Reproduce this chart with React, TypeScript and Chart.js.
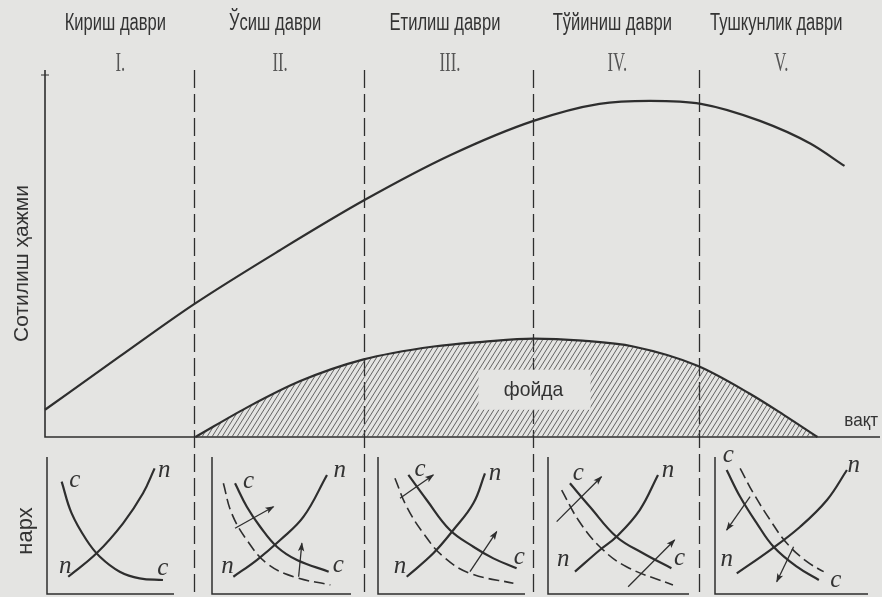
import React, { useEffect, useRef } from "react";
import { Chart, registerables } from "chart.js";

Chart.register(...registerables);

const BG = "#e4e4e2";
const INK = "#2e2e2e";
const TEXT = "#333333";

// Product life cycle: stages along the time axis
const stageNames = ["Кириш даври", "Ўсиш даври", "Етилиш даври", "Тўйиниш даври", "Тушкунлик даври"];
const stageNumerals = ["I.", "II.", "III.", "IV.", "V."];
const stageBounds = [0, 8.8, 18.9, 28.9, 38.7, 48.3];
const timeMax = 49.4;
const volumeMax = 101;

// Sales volume over time
const salesTime = [0, 4.4, 8.8, 13.9, 18.9, 24.0, 28.9, 32.8, 35.8, 38.8, 42.3, 45.3, 47.3];
const salesVolume = [7.5, 22.1, 36.5, 51.4, 65.2, 77.6, 87.0, 91.7, 92.5, 91.7, 87.0, 80.7, 74.6];

// Profit over time
const profitTime = [8.9, 12.1, 15.1, 18.8, 23.0, 25.9, 28.9, 31.8, 34.8, 38.6, 41.7, 43.7, 45.7];
const profitValue = [0, 8.5, 15.4, 21.3, 24.9, 26.2, 27.1, 26.5, 24.9, 19.6, 11.9, 6.1, 0];

// Price panels: [quantity, price] pairs, both on 0..10
const demand1 = [[1.05, 8.2], [1.76, 5.9], [2.83, 3.94], [3.79, 2.72], [5.21, 1.63], [6.64, 1.14], [8.31, 1.02]];
const supply1 = [[1.52, 1.26], [3.55, 2.97], [5.45, 5.16], [6.88, 7.35], [7.71, 9.17]];

const demand2 = [[1.64, 8.08], [2.48, 6.37], [3.43, 4.91], [4.62, 3.45], [6.05, 2.48], [8.31, 1.63]];
const demandOld2 = [[0.81, 8.08], [1.4, 5.89], [2.48, 3.94], [3.9, 2.24], [5.81, 1.26], [8.43, 0.66]];
const supply2 = [[1.52, 1.26], [3.19, 2.48], [4.86, 3.94], [6.52, 5.64], [8.19, 8.69]];
const shifts2 = [[[1.64, 4.8], [4.38, 6.37]], [[6.17, 1.26], [6.4, 3.7]]];

const demand3 = [[2.17, 8.69], [3.48, 6.86], [5.14, 4.67], [6.81, 3.45], [8.24, 2.6], [9.9, 1.88]];
const demandOld3 = [[1.21, 8.45], [2.05, 6.37], [3.24, 4.43], [4.67, 2.72], [6.57, 1.51], [9.67, 0.78]];
const supply3 = [[2.05, 1.26], [3.95, 2.97], [5.38, 4.67], [6.81, 6.62], [7.64, 8.81]];
const shifts3 = [[[1.57, 6.99], [3.95, 8.69]], [[6.57, 1.63], [8.48, 4.55]]];

const demand4 = [[1.57, 8.08], [3.0, 6.37], [4.9, 4.18], [6.81, 2.97], [8.84, 1.88]];
const demandOld4 = [[0.98, 7.59], [2.17, 5.4], [3.71, 3.45], [5.62, 1.99], [8.95, 0.66]];
const supply4 = [[1.93, 1.63], [3.71, 3.21], [4.9, 4.18], [6.57, 6.13], [7.88, 8.69]];
const shifts4 = [[[0.62, 5.28], [3.83, 8.56]], [[5.74, 0.53], [9.07, 3.94]]];

const demand5 = [[0.83, 9.05], [1.79, 7.1], [2.98, 5.16], [4.17, 3.45], [5.83, 1.99], [7.4, 1.02]];
const demandOld5 = [[1.79, 9.17], [2.74, 7.35], [3.93, 5.4], [5.12, 3.7], [6.55, 2.36], [7.74, 1.63]];
const supply5 = [[1.55, 1.51], [3.93, 3.21], [6.07, 4.91], [7.98, 6.86], [9.4, 9.05]];
const shifts5 = [[[2.5, 7.1], [0.83, 4.67]], [[5.6, 3.45], [4.4, 0.9]]];

// Curve letters: [text, quantity, price]
const letters1 = [["с", 2.0, 8.3], ["п", 8.4, 9.05], ["п", 1.3, 2.0], ["с", 8.3, 1.9]];
const letters2 = [["с", 2.6, 8.2], ["п", 9.1, 9.05], ["п", 1.1, 2.0], ["с", 9.0, 2.1]];
const letters3 = [["с", 3.0, 9.1], ["п", 8.36, 8.8], ["п", 1.57, 2.0], ["с", 10.1, 2.7]];
const letters4 = [["с", 2.17, 8.8], ["п", 8.6, 9.05], ["п", 1.1, 2.5], ["с", 9.43, 2.6]];
const letters5 = [["с", 0.95, 10.1], ["п", 9.88, 9.4], ["п", 0.83, 2.5], ["с", 8.6, 1.0]];

const panels = [
  { left: 47, qMax: 9.1, demand: demand1, old: null, supply: supply1, shifts: [], letters: letters1 },
  { left: 212, qMax: 9.9, demand: demand2, old: demandOld2, supply: supply2, shifts: shifts2, letters: letters2 },
  { left: 378, qMax: 10.5, demand: demand3, old: demandOld3, supply: supply3, shifts: shifts3, letters: letters3 },
  { left: 548, qMax: 10.1, demand: demand4, old: demandOld4, supply: supply4, shifts: shifts4, letters: letters4 },
  { left: 715, qMax: 10.9, demand: demand5, old: demandOld5, supply: supply5, shifts: shifts5, letters: letters5 },
];

const Q_PX = 14;
const PANEL_TOP = 440;
const PANEL_H = 157;

function makeHatch(): CanvasPattern | string {
  const c = document.createElement("canvas");
  c.width = 5;
  c.height = 8;
  const g = c.getContext("2d");
  if (!g) return "rgba(0,0,0,0.2)";
  g.strokeStyle = "#4a4a4a";
  g.lineWidth = 0.85;
  g.beginPath();
  g.moveTo(0, 8);
  g.lineTo(5, 0);
  g.moveTo(-1, 1.6);
  g.lineTo(1, -1.6);
  g.moveTo(4, 9.6);
  g.lineTo(6, 6.4);
  g.stroke();
  return g.createPattern(c, "repeat") || "rgba(0,0,0,0.2)";
}

function drawText(ctx: CanvasRenderingContext2D, text: string, x: number, y: number, font: string, sx: number, align: CanvasTextAlign = "center", rot = 0) {
  ctx.save();
  ctx.translate(x, y);
  if (rot) ctx.rotate(rot);
  ctx.scale(sx, 1);
  ctx.font = font;
  ctx.textAlign = align;
  ctx.textBaseline = "middle";
  ctx.fillText(text, 0, 0);
  ctx.restore();
}

const lifecyclePlugin = {
  id: "lifecycle",
  beforeDatasetsDraw(chart: any) {
    const { ctx, chartArea: a, scales } = chart;
    const x = scales.x;
    ctx.save();
    ctx.strokeStyle = INK;
    ctx.lineWidth = 1.3;
    ctx.setLineDash([18, 6]);
    stageBounds.slice(1, -1).forEach((b) => {
      const px = Math.round(x.getPixelForValue(b)) + 0.5;
      ctx.beginPath();
      ctx.moveTo(px, a.top);
      ctx.lineTo(px, chart.height);
      ctx.stroke();
    });
    ctx.setLineDash([]);
    ctx.lineWidth = 1.6;
    ctx.beginPath();
    ctx.moveTo(a.left, a.top);
    ctx.lineTo(a.left, a.bottom);
    ctx.lineTo(a.right, a.bottom);
    ctx.stroke();
    // small cross mark at the top of the vertical axis
    ctx.lineWidth = 1;
    ctx.beginPath();
    ctx.moveTo(a.left - 4, a.top + 5);
    ctx.lineTo(a.left + 4, a.top + 5);
    ctx.stroke();
    ctx.restore();
  },
  afterDatasetsDraw(chart: any) {
    const { ctx, chartArea: a, scales } = chart;
    const x = scales.x;
    const y = scales.y;
    ctx.save();

    // profit label on a clear patch
    const fx = x.getPixelForValue(stageBounds[3]);
    const fy = y.getPixelForValue(13);
    ctx.fillStyle = BG;
    ctx.fillRect(fx - 55, fy - 20, 112, 40);
    ctx.fillStyle = TEXT;
    drawText(ctx, "фойда", fx, fy, '21px "Liberation Sans"', 0.92);

    // stage names and numerals
    for (let i = 0; i < stageNames.length; i++) {
      const mid = x.getPixelForValue((stageBounds[i] + stageBounds[i + 1]) / 2);
      ctx.fillStyle = TEXT;
      drawText(ctx, stageNames[i], mid - 4, 24, '23px "Liberation Sans"', 0.72);
      ctx.fillStyle = "#555";
      drawText(ctx, stageNumerals[i], mid + 1, 64, '27px "Liberation Serif"', 0.62);
    }

    // axis captions
    ctx.fillStyle = TEXT;
    drawText(ctx, "Сотилиш ҳажми", a.left - 23, (a.top + a.bottom) / 2 + 10, '21px "Liberation Sans"', 1.0, "center", -Math.PI / 2);
    drawText(ctx, "вақт", a.right - 2, a.bottom - 16, '19px "Liberation Sans"', 0.9, "right");
    drawText(ctx, "нарх", a.left - 19, 531, '22px "Liberation Sans"', 1.0, "center", -Math.PI / 2);
    ctx.restore();
  },
};

function LifecycleChart() {
  const ref = useRef<HTMLCanvasElement | null>(null);
  useEffect(() => {
    if (!ref.current) return;
    const chart = new Chart(ref.current, {
      type: "line",
      data: {
        datasets: [
          {
            data: salesTime.map((t, i) => ({ x: t, y: salesVolume[i] })),
            borderColor: INK,
            borderWidth: 2.2,
            pointRadius: 0,
            cubicInterpolationMode: "monotone",
            fill: false,
            clip: false,
          } as any,
          {
            data: profitTime.map((t, i) => ({ x: t, y: profitValue[i] })),
            borderColor: INK,
            borderWidth: 2.2,
            pointRadius: 0,
            cubicInterpolationMode: "monotone",
            fill: "origin",
            backgroundColor: makeHatch(),
            clip: false,
          } as any,
        ],
      },
      options: {
        responsive: false,
        animation: false,
        events: [],
        layout: { padding: { left: 45, right: 2, top: 70, bottom: 160 } },
        scales: {
          x: { type: "linear", min: 0, max: timeMax, display: false },
          y: { type: "linear", min: 0, max: volumeMax, display: false },
        },
        plugins: { legend: { display: false }, tooltip: { enabled: false } },
      },
      plugins: [lifecyclePlugin],
    });
    return () => chart.destroy();
  }, []);
  return <canvas ref={ref} width={882} height={597} style={{ position: "absolute", left: 0, top: 0, display: "block" }} />;
}

const panelPlugin = {
  id: "panelMarks",
  beforeDatasetsDraw(chart: any) {
    const { ctx, chartArea: a } = chart;
    ctx.save();
    ctx.strokeStyle = INK;
    ctx.lineWidth = 1.5;
    ctx.beginPath();
    ctx.moveTo(a.left, a.top);
    ctx.lineTo(a.left, a.bottom);
    ctx.lineTo(a.right, a.bottom);
    ctx.stroke();
    ctx.restore();
  },
  afterDatasetsDraw(chart: any, _args: any, opts: any) {
    const { ctx, scales } = chart;
    ctx.save();
    ctx.fillStyle = INK;
    chart.data.datasets.forEach((ds: any, i: number) => {
      if (!ds.isShift) return;
      const pts = chart.getDatasetMeta(i).data;
      const p0 = pts[pts.length - 2];
      const p1 = pts[pts.length - 1];
      const ang = Math.atan2(p1.y - p0.y, p1.x - p0.x);
      ctx.save();
      ctx.translate(p1.x, p1.y);
      ctx.rotate(ang);
      ctx.beginPath();
      ctx.moveTo(1, 0);
      ctx.lineTo(-8, -3.2);
      ctx.lineTo(-6, 0);
      ctx.lineTo(-8, 3.2);
      ctx.closePath();
      ctx.fill();
      ctx.restore();
    });
    ctx.fillStyle = TEXT;
    (opts.letters || []).forEach((l: any) => {
      drawText(ctx, l[0], scales.x.getPixelForValue(l[1]), scales.y.getPixelForValue(l[2]), 'italic 25px "Liberation Serif"', 1);
    });
    ctx.restore();
  },
};

function PricePanel({ spec }: { spec: any }) {
  const ref = useRef<HTMLCanvasElement | null>(null);
  const width = Math.round(spec.qMax * Q_PX) + 40;
  useEffect(() => {
    if (!ref.current) return;
    const pts = (arr: number[][]) => arr.map((p) => ({ x: p[0], y: p[1] }));
    const base = { borderColor: INK, pointRadius: 0, fill: false, clip: false };
    const datasets: any[] = [];
    if (spec.old) datasets.push({ ...base, data: pts(spec.old), borderWidth: 1.6, borderDash: [11, 5], tension: 0.4 });
    datasets.push({ ...base, data: pts(spec.demand), borderWidth: 2.2, tension: 0.4 });
    datasets.push({ ...base, data: pts(spec.supply), borderWidth: 2.2, tension: 0.4 });
    spec.shifts.forEach((s: number[][]) => datasets.push({ ...base, data: pts(s), borderWidth: 1.3, tension: 0, isShift: true }));
    const chart = new Chart(ref.current, {
      type: "line",
      data: { datasets },
      options: {
        responsive: false,
        animation: false,
        events: [],
        layout: { padding: { left: 20, right: 20, top: 17, bottom: 3 } },
        scales: {
          x: { type: "linear", min: 0, max: spec.qMax, display: false },
          y: { type: "linear", min: 0, max: 10, display: false },
        },
        plugins: { legend: { display: false }, tooltip: { enabled: false }, panelMarks: { letters: spec.letters } } as any,
      },
      plugins: [panelPlugin],
    });
    return () => chart.destroy();
  }, [spec]);
  return (
    <canvas
      ref={ref}
      width={width}
      height={PANEL_H}
      style={{ position: "absolute", left: spec.left - 20, top: PANEL_TOP, display: "block" }}
    />
  );
}

export default function App() {
  return (
    <div style={{ position: "fixed", left: 0, top: 0, width: 882, height: 597, background: BG, overflow: "hidden" }}>
      <LifecycleChart />
      {panels.map((p, i) => (
        <PricePanel key={i} spec={p} />
      ))}
    </div>
  );
}
